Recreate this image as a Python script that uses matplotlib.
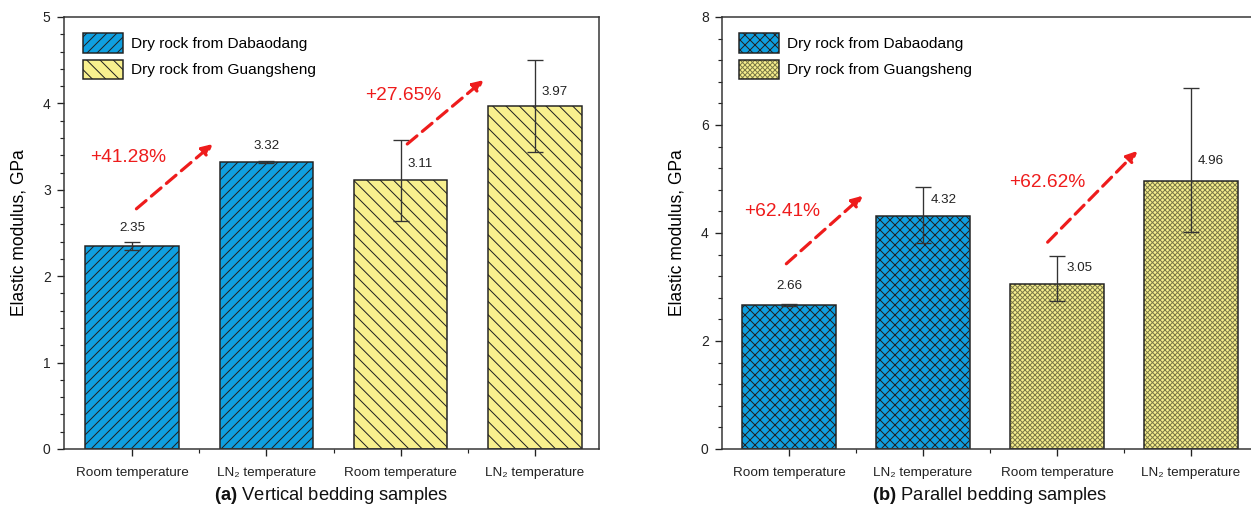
import numpy as np
import matplotlib
matplotlib.use('Agg')
import matplotlib.pyplot as plt
from matplotlib.colors import to_rgba
from matplotlib.patches import Patch
from matplotlib.ticker import MultipleLocator, FixedLocator

# Data
categories = ['Room temperature', 'LN\u2082 temperature', 'Room temperature', 'LN\u2082 temperature']
groups = ['Dry rock from Dabaodang', 'Dry rock from Guangsheng']

vert_values = [2.35, 3.32, 3.11, 3.97]
vert_err_low = [0.05, 0.01, 0.47, 0.53]
vert_err_high = [0.05, 0.01, 0.47, 0.53]

para_values = [2.66, 4.32, 3.05, 4.96]
para_err_low = [0.02, 0.51, 0.30, 0.95]
para_err_high = [0.02, 0.53, 0.53, 1.72]

vert_changes = ['+41.28%', '+27.65%']
para_changes = ['+62.41%', '+62.62%']

BLUE = '#0f9fe0'
YELLOW = '#f8f08e'
EDGE = '#222222'

plt.rcParams['font.family'] = ['Liberation Sans', 'DejaVu Sans']
plt.rcParams['mathtext.fontset'] = 'custom'
plt.rcParams['mathtext.rm'] = 'Liberation Sans'
plt.rcParams['mathtext.it'] = 'Liberation Sans:italic'
plt.rcParams['mathtext.bf'] = 'Liberation Sans:bold'
plt.rcParams['hatch.linewidth'] = 0.6
plt.rcParams['hatch.color'] = EDGE

DPI = 120
fig = plt.figure(figsize=(1251 / DPI, 516 / DPI), dpi=DPI)
ax_a = fig.add_axes([64 / 1251, 67 / 516, 535 / 1251, 432 / 516])
ax_b = fig.add_axes([722 / 1251, 67 / 516, 536 / 1251, 432 / 516])


def draw_panel(ax, values, err_low, err_high, hatches, hatch_colors, ymax, ystep, xlim,
               label_specs, arrows, changes, title, legend_x):
    x = np.arange(1, 5)
    colors = [BLUE, BLUE, YELLOW, YELLOW]
    for i in range(4):
        bars = ax.bar(x[i], values[i], width=0.7, color=colors[i], edgecolor=EDGE,
                      linewidth=0.9, hatch=hatches[i], zorder=2)
        bars[0]._hatch_color = to_rgba(hatch_colors[i])
    ax.errorbar(x, values, yerr=[err_low, err_high], fmt='none', ecolor='#333333',
                elinewidth=0.8, capsize=5, capthick=0.8, zorder=3)

    # value labels
    for i, (dx, dy, ha) in enumerate(label_specs):
        ax.text(x[i] + dx, dy, f'{values[i]:.2f}', ha=ha, va='center',
                fontsize=8, color='#222222', zorder=4)

    # dashed red arrows with percentage text
    for (start, end, tpos), txt in zip(arrows, changes):
        ax.annotate('', xy=end, xytext=start,
                    arrowprops=dict(arrowstyle='-|>', color='#ee1c1c', lw=1.9,
                                    linestyle=(0, (4, 2.2)), mutation_scale=13,
                                    shrinkA=0, shrinkB=0), zorder=5)
        ax.text(tpos[0], tpos[1], txt, color='#ee1c1c', fontsize=11.5,
                ha='center', va='center', zorder=5)

    ax.set_xlim(*xlim)
    ax.set_ylim(0, ymax)
    ax.set_xticks(x)
    ax.set_xticklabels(categories)
    ax.xaxis.set_minor_locator(FixedLocator([1.5, 2.5, 3.5]))
    ax.yaxis.set_major_locator(MultipleLocator(ystep))
    ax.yaxis.set_minor_locator(MultipleLocator(ystep / 5))
    ax.tick_params(axis='both', which='major', direction='out', length=4,
                   width=0.8, colors='#222222', labelsize=8.3, pad=4)
    ax.tick_params(axis='both', which='minor', direction='out', length=2.2,
                   width=0.7, colors='#222222')
    ax.tick_params(axis='x', which='major', labelsize=8.1, pad=7)
    for sp in ax.spines.values():
        sp.set_color('#333333')
        sp.set_linewidth(0.9)
    ax.set_ylabel('Elastic modulus, GPa', fontsize=10.5, labelpad=9)

    handles = [Patch(facecolor=BLUE, edgecolor=EDGE, hatch=hatches[0], linewidth=0.9),
               Patch(facecolor=YELLOW, edgecolor=EDGE, hatch=hatches[2], linewidth=0.9)]
    leg = ax.legend(handles, groups, loc='upper left', bbox_to_anchor=(legend_x, 0.962),
                    frameon=False, fontsize=9.2, handlelength=2.6, handleheight=1.55,
                    handletextpad=0.5, labelspacing=0.45, borderaxespad=0, borderpad=0)
    for h, c in zip(leg.get_patches(), [hatch_colors[0], hatch_colors[2]]):
        h._hatch_color = to_rgba(c)

    ax.text(0.5, -0.083, title, transform=ax.transAxes, ha='center', va='top',
            fontsize=11, color='#111111')


draw_panel(ax_a, vert_values, vert_err_low, vert_err_high,
           ['////', '////', '\\\\\\', '\\\\\\'], [EDGE] * 4, 5, 1, (0.49, 4.48),
           [(0, 2.56, 'center'), (0, 3.51, 'center'), (0.05, 3.30, 'left'), (0.05, 4.13, 'left')],
           [((1.03, 2.78), (1.60, 3.53), (0.97, 3.37)),
            ((3.05, 3.53), (3.62, 4.27), (3.02, 4.09))],
           vert_changes, r'$\mathbf{(a)}$ Vertical bedding samples', 0.036)

draw_panel(ax_b, para_values, para_err_low, para_err_high,
           ['xxxx', 'xxxx', 'xxxxxxxx', 'xxxxxxxx'],
           [EDGE, EDGE, '#7c7a48', '#7c7a48'], 8, 2, (0.5, 4.5),
           [(0, 3.02, 'center'), (0.06, 4.61, 'left'), (0.07, 3.35, 'left'), (0.05, 5.33, 'left')],
           [((0.98, 3.43), (1.55, 4.69), (0.95, 4.39)),
            ((2.93, 3.83), (3.60, 5.52), (2.93, 4.94))],
           para_changes, r'$\mathbf{(b)}$ Parallel bedding samples', 0.032)

fig.savefig('out.png', dpi=DPI)
